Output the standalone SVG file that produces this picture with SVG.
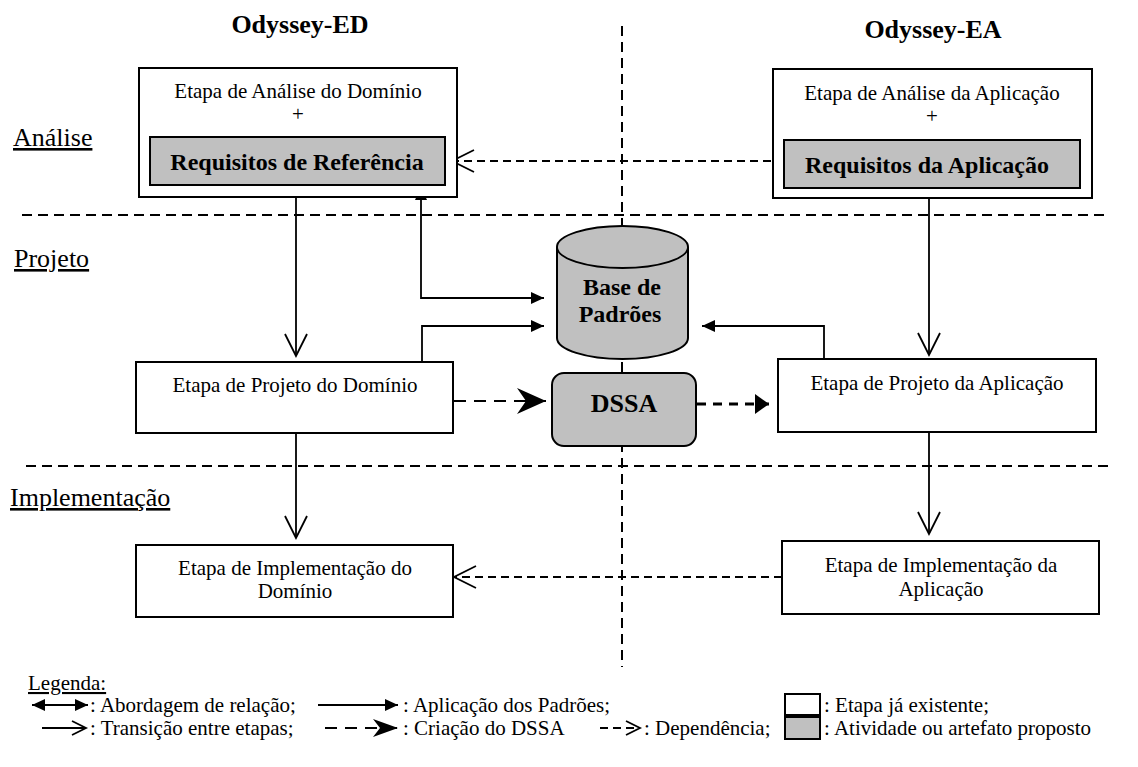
<svg xmlns="http://www.w3.org/2000/svg" width="1138" height="767" viewBox="0 0 1138 767" font-family="Liberation Serif, Times New Roman, Times, serif">
  <style>
    text { font-family: "Liberation Serif", "Times New Roman", Times, serif; fill: #000; }
    .t { font-size: 21px; }
    .c { text-anchor: middle; }
    .b { font-weight: bold; }
    .title { font-size: 26px; font-weight: bold; text-anchor: middle; }
    .phase { font-size: 26px; text-decoration: underline; }
    .lg { font-size: 21px; }
    .box { fill: #fff; stroke: #000; stroke-width: 2; }
    .grey { fill: #c0c0c0; stroke: #000; stroke-width: 2; }
    .sep { fill: none; stroke: #000; stroke-width: 2; stroke-dasharray: 10 6; }
    .ln { fill: none; stroke: #000; stroke-width: 1.8; }
    .dep { fill: none; stroke: #000; stroke-width: 1.8; stroke-dasharray: 8 5; }
    .crt { fill: none; stroke: #000; stroke-width: 2; stroke-dasharray: 12 8; }
    .thick { fill: none; stroke: #000; stroke-width: 3.2; stroke-dasharray: 9 7; }
  </style>
  <defs>
    <marker id="open" markerUnits="userSpaceOnUse" markerWidth="26" markerHeight="26" refX="22" refY="11" orient="auto" overflow="visible">
      <path d="M0,0 L22,11 L0,22" fill="none" stroke="#000" stroke-width="1.8"/>
    </marker>
    <marker id="solid" markerUnits="userSpaceOnUse" markerWidth="14" markerHeight="14" refX="13" refY="6" orient="auto-start-reverse" overflow="visible">
      <path d="M0,0 L13,6 L0,12 Z" fill="#000"/>
    </marker>
    <marker id="stealth" markerUnits="userSpaceOnUse" markerWidth="30" markerHeight="28" refX="29" refY="13" orient="auto" overflow="visible">
      <path d="M0,0 L29,13 L0,26 L9,13 Z" fill="#000"/>
    </marker>
    <marker id="bold" markerUnits="userSpaceOnUse" markerWidth="16" markerHeight="22" refX="14" refY="10" orient="auto" overflow="visible">
      <path d="M0,0 L14,10 L0,20 Z" fill="#000"/>
    </marker>
    <marker id="lgstealth" markerUnits="userSpaceOnUse" markerWidth="26" markerHeight="20" refX="25" refY="9" orient="auto" overflow="visible">
      <path d="M0,0 L25,9 L0,18 L7,9 Z" fill="#000"/>
    </marker>
    <marker id="lgopen" markerUnits="userSpaceOnUse" markerWidth="16" markerHeight="16" refX="14" refY="7" orient="auto" overflow="visible">
      <path d="M0,0 L14,7 L0,14" fill="none" stroke="#000" stroke-width="1.8"/>
    </marker>
  </defs>

  <!-- phase separators -->
  <g id="separators">
    <line class="sep" x1="22" y1="215" x2="1105" y2="215"/>
    <line class="sep" x1="26" y1="466" x2="1112" y2="466"/>
    <line class="sep" x1="622" y1="26" x2="622" y2="667" stroke-dasharray="10 7"/>
  </g>

  <!-- column titles and phase labels -->
  <g id="titles">
    <text class="title" x="300" y="33">Odyssey-ED</text>
    <text class="title" x="933" y="38">Odyssey-EA</text>
    <text class="phase" x="13" y="146">Análise</text>
    <text class="phase" x="14" y="267">Projeto</text>
    <text class="phase" x="10" y="506">Implementação</text>
  </g>

  <!-- connectors -->
  <g id="connectors">
    <!-- stage transitions -->
    <line class="ln" x1="296" y1="198" x2="296" y2="356" marker-end="url(#open)"/>
    <line class="ln" x1="296" y1="434" x2="296" y2="538" marker-end="url(#open)"/>
    <line class="ln" x1="929" y1="199" x2="929" y2="355" marker-end="url(#open)"/>
    <line class="ln" x1="929" y1="433" x2="929" y2="534" marker-end="url(#open)"/>
    <!-- dependencies -->
    <line class="dep" x1="784" y1="161" x2="452" y2="161" marker-end="url(#open)"/>
    <line class="dep" x1="782" y1="577" x2="454" y2="577" marker-end="url(#open)"/>
    <!-- relation between reference requirements and pattern base -->
    <polyline class="ln" points="421,187 421,298 544,298" marker-start="url(#solid)" marker-end="url(#solid)"/>
    <!-- pattern application -->
    <polyline class="ln" points="422,362 422,326 544,326" marker-end="url(#solid)"/>
    <polyline class="ln" points="824,359 824,326 702,326" marker-end="url(#solid)"/>
    <!-- DSSA creation -->
    <line class="crt" x1="454" y1="401" x2="546" y2="401" marker-end="url(#stealth)"/>
    <!-- DSSA dependency -->
    <line class="thick" x1="697" y1="404" x2="769" y2="404" marker-end="url(#bold)"/>
  </g>

  <g id="ed-analise">
    <rect class="box" x="139" y="68" width="318" height="129"/>
    <text class="t c" x="298" y="98">Etapa de Análise do Domínio</text>
    <text class="t c" x="298" y="121">+</text>
  </g>
  <g id="requisitos-referencia">
    <rect class="grey" x="150" y="137" width="295" height="48"/>
    <text class="c b" x="297" y="170" font-size="24">Requisitos de Referência</text>
  </g>

  <g id="ea-analise">
    <rect class="box" x="773" y="69" width="319" height="129"/>
    <text class="t c" x="932" y="100">Etapa de Análise da Aplicação</text>
    <text class="t c" x="932" y="123">+</text>
  </g>
  <g id="requisitos-aplicacao">
    <rect class="grey" x="784" y="140" width="296" height="48"/>
    <text class="c b" x="927" y="173" font-size="24">Requisitos da Aplicação</text>
  </g>

  <g id="base-padroes">
    <path class="grey" d="M557,247 V338 A65.5,21 0 0 0 688,338 V247 A65.5,21 0 0 0 557,247 Z"/>
    <path class="ln" stroke-width="2" d="M557,247 A65.5,21 0 0 0 688,247"/>
    <text class="c b" x="622" y="295" font-size="24">Base de</text>
    <text class="c b" x="620" y="322" font-size="24">Padrões</text>
  </g>

  <g id="dssa">
    <rect class="grey" x="552" y="373" width="144" height="73" rx="12"/>
    <text class="c b" x="624" y="412" font-size="26">DSSA</text>
  </g>

  <g id="ed-projeto">
    <rect class="box" x="136" y="362" width="317" height="71"/>
    <text class="t c" x="295" y="392">Etapa de Projeto do Domínio</text>
  </g>

  <g id="ea-projeto">
    <rect class="box" x="778" y="359" width="318" height="73"/>
    <text class="t c" x="937" y="390">Etapa de Projeto da Aplicação</text>
  </g>

  <g id="ed-implementacao">
    <rect class="box" x="136" y="545" width="317" height="72"/>
    <text class="t c" x="295" y="575">Etapa de Implementação do</text>
    <text class="t c" x="295" y="598">Domínio</text>
  </g>

  <g id="ea-implementacao">
    <rect class="box" x="782" y="541" width="317" height="73"/>
    <text class="t c" x="941" y="572">Etapa de Implementação da</text>
    <text class="t c" x="941" y="596">Aplicação</text>
  </g>

  <!-- legend -->
  <g id="legend">
    <text class="lg" x="28" y="690" font-size="20" style="text-decoration: underline">Legenda:</text>

    <line class="ln" x1="32" y1="705" x2="88" y2="705" marker-start="url(#solid)" marker-end="url(#solid)"/>
    <text class="lg" x="90" y="712">: Abordagem de relação;</text>
    <line class="ln" x1="318" y1="705" x2="398" y2="705" marker-end="url(#solid)"/>
    <text class="lg" x="403" y="712">: Aplicação dos Padrões;</text>
    <rect class="box" x="785" y="694" width="35" height="21"/>
    <text class="lg" x="824" y="712">: Etapa já existente;</text>

    <line class="ln" x1="42" y1="728" x2="86" y2="728" marker-end="url(#lgopen)"/>
    <text class="lg" x="90" y="735">: Transição entre etapas;</text>
    <line class="crt" x1="325" y1="728" x2="398" y2="728" marker-end="url(#lgstealth)"/>
    <text class="lg" x="403" y="735">: Criação do DSSA</text>
    <line class="dep" x1="600" y1="728" x2="640" y2="728" stroke-dasharray="7 4" marker-end="url(#lgopen)"/>
    <text class="lg" x="644" y="735">: Dependência;</text>
    <rect class="grey" x="785" y="717" width="35" height="22"/>
    <text class="lg" x="824" y="735">: Atividade ou artefato proposto</text>
  </g>
</svg>
